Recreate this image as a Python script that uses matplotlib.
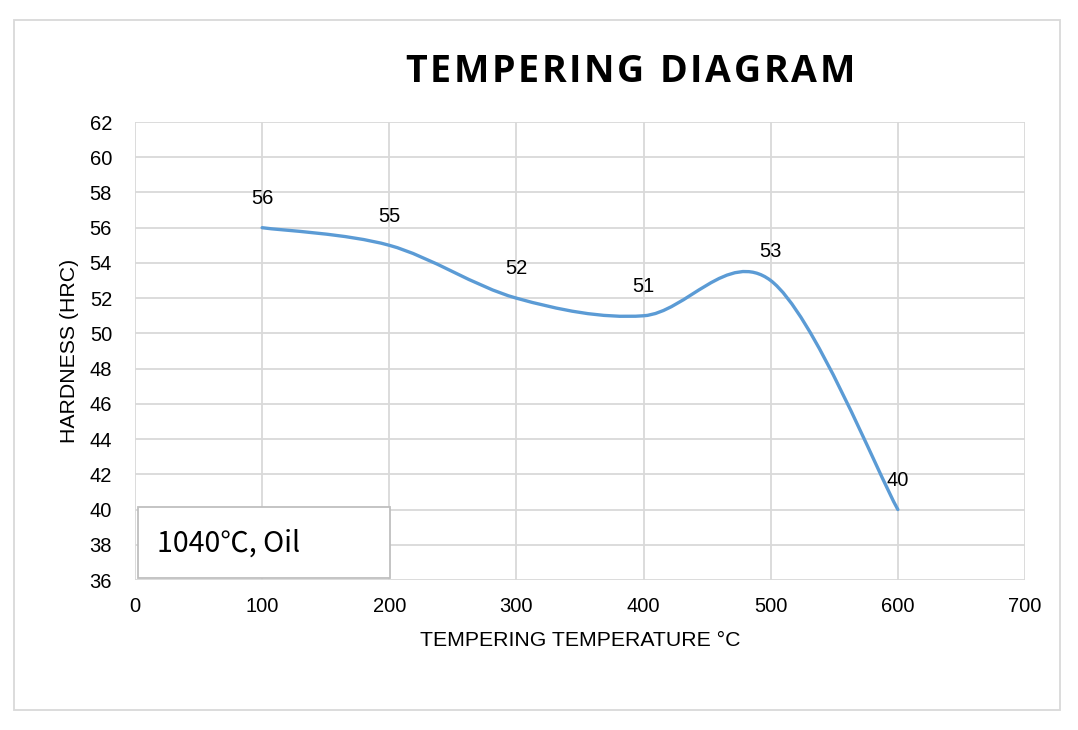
import numpy as np
import matplotlib
matplotlib.use('Agg')
import matplotlib.pyplot as plt
from matplotlib.patches import Rectangle
from matplotlib.path import Path
from matplotlib.patches import PathPatch

# data
temps = [100, 200, 300, 400, 500, 600]
hardness = [56, 55, 52, 51, 53, 40]
x_ticks = [0, 100, 200, 300, 400, 500, 600, 700]
y_ticks = list(range(36, 63, 2))

line_color = '#5B9BD5'
grid_color = '#D9D9D9'
fs = 14.5

plt.rcParams['font.family'] = ['Liberation Sans', 'DejaVu Sans']

fig = plt.figure(figsize=(10.78, 7.30), dpi=100)
W, H = 1078, 730
ax = fig.add_axes([135 / W, 1 - 580 / H, (1025 - 135) / W, (580 - 122) / H])

# Excel-like smoothed line (Bezier through points, tension 1/6)
pts = np.column_stack([temps, hardness]).astype(float)
verts = [pts[0]]
codes = [Path.MOVETO]
n = len(pts)
for i in range(n - 1):
    p0 = pts[i - 1] if i > 0 else pts[i]
    p1 = pts[i]
    p2 = pts[i + 1]
    p3 = pts[i + 2] if i + 2 < n else pts[i + 1]
    c1 = p1 + (p2 - p0) / 6
    c2 = p2 - (p3 - p1) / 6
    verts += [c1, c2, p2]
    codes += [Path.CURVE4] * 3
ax.add_patch(PathPatch(Path(verts, codes), fill=False, edgecolor=line_color,
                       lw=2.4, capstyle='round', joinstyle='round', zorder=3))

for t, h in zip(temps, hardness):
    ax.annotate(str(h), (t, h), xytext=(0, 21), textcoords='offset points',
                ha='center', va='center', fontsize=fs, color='#000000', zorder=4)

ax.set_xlim(0, 700)
ax.set_ylim(36, 62)
ax.set_xticks(x_ticks)
ax.set_yticks(y_ticks)
ax.grid(True, color=grid_color, lw=1.3)
ax.set_axisbelow(True)
for s in ax.spines.values():
    s.set_visible(False)
ax.tick_params(length=0, labelsize=fs, colors='#000000')
ax.tick_params(axis='x', pad=12)
ax.tick_params(axis='y', pad=16.5)

ax.set_xlabel('TEMPERING TEMPERATURE °C', fontsize=15.3, labelpad=11)
ax.set_ylabel('HARDNESS (HRC)', fontsize=15.3, labelpad=7.5)

# note box
ax.add_patch(Rectangle((0.003, 0.004), 0.284, 0.155, transform=ax.transAxes,
                       facecolor='white', edgecolor='#BFBFBF', lw=1.3, zorder=5))
ax.text(0.025, 0.08, '1040℃, Oil', transform=ax.transAxes, fontsize=20.5,
        va='center', ha='left', zorder=6,
        family=['Noto Sans CJK SC', 'DejaVu Sans'])

# title, letter-spaced: place each character
title = 'TEMPERING DIAGRAM'
renderer = fig.canvas.get_renderer()
chars = []
for ch in title:
    t = fig.text(0, 1 - 72 / H, ch, fontsize=27, fontweight='bold',
                 family='Open Sans', ha='left', va='center')
    chars.append(t)
widths = [c.get_window_extent(renderer).width if c.get_text() != ' '
          else 10 for c in chars]
target = 855 - 405
gap = (target - sum(widths)) / (len(chars) - 1)
x = 405.0
for c, w in zip(chars, widths):
    c.set_x(x / W)
    x += w + gap

# outer border
fig.patches.append(Rectangle((14 / W, 1 - 710 / H), (1060 - 14) / W, (710 - 20) / H,
                             transform=fig.transFigure, fill=False,
                             edgecolor=grid_color, lw=1.3))

fig.savefig('out.png', dpi=100)
